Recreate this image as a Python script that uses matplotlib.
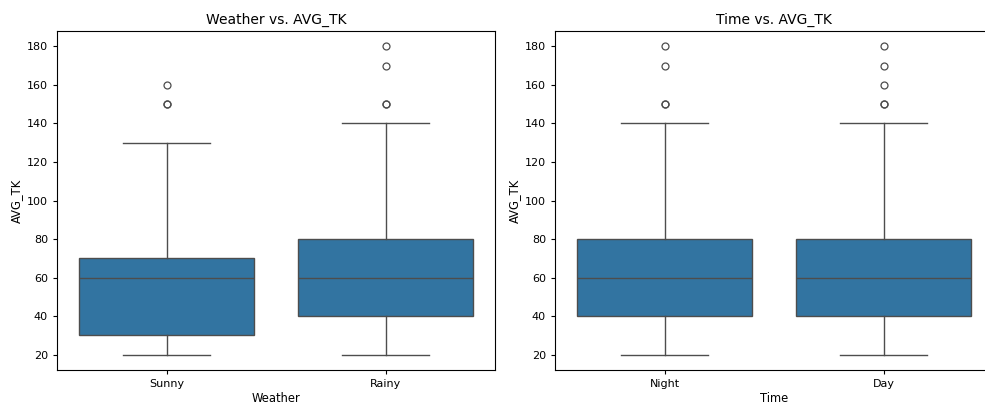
import matplotlib.pyplot as plt

# five-number summaries plus outliers for AVG_TK
weather = ['Sunny', 'Rainy']
weather_q1 = [30, 40]
weather_med = [60, 60]
weather_q3 = [70, 80]
weather_lo = [20, 20]
weather_hi = [130, 140]
weather_out = [[150, 150, 160], [150, 150, 170, 180]]

time = ['Night', 'Day']
time_q1 = [40, 40]
time_med = [60, 60]
time_q3 = [80, 80]
time_lo = [20, 20]
time_hi = [140, 140]
time_out = [[150, 150, 170, 180], [150, 150, 160, 170, 180]]

box_color = '#3274a1'
line_color = '#4d4d4d'

plt.rcParams['font.size'] = 8.0
plt.rcParams['axes.labelsize'] = 8.3
plt.rcParams['axes.titlesize'] = 10
plt.rcParams['axes.linewidth'] = 0.8
plt.rcParams['xtick.major.width'] = 0.8
plt.rcParams['ytick.major.width'] = 0.8
plt.rcParams['xtick.major.size'] = 3
plt.rcParams['ytick.major.size'] = 3


def make_stats(labels, q1, med, q3, lo, hi, out):
    stats = []
    for i in range(len(labels)):
        stats.append({'label': labels[i], 'q1': q1[i], 'med': med[i], 'q3': q3[i],
                      'whislo': lo[i], 'whishi': hi[i], 'fliers': out[i]})
    return stats


def draw(ax, stats, title, xlabel):
    lw = 1.0
    ax.bxp(stats, positions=range(len(stats)), widths=0.8, patch_artist=True,
           boxprops=dict(facecolor=box_color, edgecolor=line_color, linewidth=lw),
           medianprops=dict(color=line_color, linewidth=lw),
           whiskerprops=dict(color=line_color, linewidth=lw),
           capprops=dict(color=line_color, linewidth=lw),
           flierprops=dict(marker='o', markerfacecolor='none', markeredgecolor=line_color,
                           markersize=5, markeredgewidth=0.9),
           capwidths=0.4)
    ax.set_xlim(-0.5, len(stats) - 0.5)
    ax.set_ylim(12, 188)
    ax.set_yticks(range(20, 181, 20))
    ax.set_title(title, pad=5)
    ax.set_xlabel(xlabel, labelpad=2)
    ax.set_ylabel('AVG_TK', labelpad=3)


W, H = 985, 409
fig = plt.figure(figsize=(W / 100, H / 100), dpi=100)
# second panel runs past the right edge of the canvas
ax1 = fig.add_axes([57 / W, (H - 370) / H, 438 / W, 339 / H])
ax2 = fig.add_axes([555 / W, (H - 370) / H, 438 / W, 339 / H])
draw(ax1, make_stats(weather, weather_q1, weather_med, weather_q3, weather_lo, weather_hi, weather_out),
     'Weather vs. AVG_TK', 'Weather')
draw(ax2, make_stats(time, time_q1, time_med, time_q3, time_lo, time_hi, time_out),
     'Time vs. AVG_TK', 'Time')
plt.savefig('out.png')
